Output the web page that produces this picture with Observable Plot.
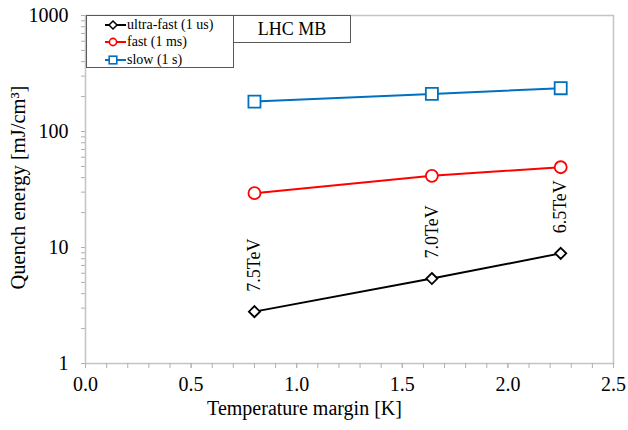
<!DOCTYPE html>
<html><head><meta charset="utf-8">
<script src="https://cdn.jsdelivr.net/npm/d3@7"></script>
<script src="https://cdn.jsdelivr.net/npm/@observablehq/plot@0.6"></script>
<style>
body{margin:0;background:#fff;}
#wrap{position:relative;width:628px;height:430px;font-family:"Liberation Serif",serif;color:#000;}
.box{position:absolute;background:#fff;border:1.5px solid #595959;box-sizing:border-box;}
.row{position:absolute;left:0;height:16px;display:flex;align-items:center;font-size:14px;white-space:nowrap;}
.row svg{margin-left:18px;margin-right:1px;}
</style></head><body><div id="wrap"></div>
<script>
// ---- data ----
const margin = [0.80, 1.64, 2.25];
const ultraFast = [2.8, 5.4, 8.9];
const fast = [29.4, 41.5, 49.2];
const slow = [181, 211, 236];
const beamEnergy = ["7.5TeV", "7.0TeV", "6.5TeV"];
const seriesNames = ["ultra-fast (1 us)", "fast (1 ms)", "slow (1 s)"];
const seriesColors = ["#000000", "#ff0000", "#0070c0"];
const seriesSymbols = ["diamond2", "circle", "square"];
const seriesR = [5, 6, 6.8];
const xTicks = [0, 0.5, 1.0, 1.5, 2.0, 2.5];
const yTicks = [1, 10, 100, 1000];
const boxTitle = "LHC MB";
const xLabel = "Temperature margin [K]";
const yLabel = "Quench energy [mJ/cm³]";

const values = [ultraFast, fast, slow];
const rows = values.flatMap((vals, i) => margin.map((m, j) => ({series: i, x: m, y: vals[j]})));
const labelRows = margin.map((m, j) => ({x: m, y: ultraFast[j], text: beamEnergy[j]}));
const xMinor = d3.range(0, 26).map(i => i / 10);
const yMinor = [1, 10, 100].flatMap(d => d3.range(2, 10).map(k => k * d));

const marks = [
  Plot.frame({stroke: "#c4c4c4", strokeWidth: 1.5}),
  Plot.axisX(xMinor, {tickSize: 5, tickFormat: () => "", stroke: "#b0b0b0", label: null}),
  Plot.axisX(xTicks, {tickSize: 5, tickPadding: 8, stroke: "#b0b0b0", tickFormat: d => d.toFixed(1), fontSize: 20, fill: "#000", label: null}),
  Plot.axisY(yMinor, {tickSize: 4, tickFormat: () => "", stroke: "#b0b0b0", label: null}),
  Plot.axisY(yTicks, {tickSize: 4, tickPadding: 13, stroke: "#b0b0b0", tickFormat: d => String(d), fontSize: 20, fill: "#000", label: null}),
];
values.forEach((v, i) => {
  const data = rows.filter(r => r.series === i);
  marks.push(Plot.line(data, {x: "x", y: "y", stroke: seriesColors[i], strokeWidth: 2}));
  marks.push(Plot.dot(data, {x: "x", y: "y", stroke: seriesColors[i], fill: "white", strokeWidth: 1.8, symbol: () => seriesSymbols[i], r: seriesR[i]}));
});
marks.push(Plot.text(labelRows, {x: "x", y: "y", text: "text", rotate: -90, textAnchor: "start", dy: -20, fontSize: 18}));
marks.push(Plot.text([xLabel], {frameAnchor: "bottom", textAnchor: "middle", lineAnchor: "middle", dy: 45, dx: -45, fontSize: 20}));
marks.push(Plot.text([yLabel], {frameAnchor: "left", rotate: -90, textAnchor: "middle", lineAnchor: "middle", dx: -67, dy: -2, fontSize: 20.5}));

const chart = Plot.plot({
  width: 628, height: 430,
  marginTop: 15, marginBottom: 67, marginLeft: 85, marginRight: 15,
  style: {fontFamily: "Liberation Serif, serif", fontSize: "20px", background: "white", color: "black", overflow: "visible"},
  x: {domain: [0, 2.5], axis: null},
  y: {type: "log", domain: [1, 1000], axis: null},
  marks
});
const wrap = document.getElementById("wrap");
chart.style.position = "absolute";
chart.style.left = "0"; chart.style.top = "0";
wrap.appendChild(chart);

// legend box
const legend = document.createElement("div");
legend.className = "box";
Object.assign(legend.style, {left: "86px", top: "15px", width: "148px", height: "53px"});
seriesNames.forEach((name, i) => {
  const row = document.createElement("div");
  row.className = "row";
  row.style.top = (1 + i * 17.3) + "px";
  const c = seriesColors[i];
  let sym;
  if (i === 0) sym = `<path d="M8,4 L12,8 L8,12 L4,8Z" fill="white" stroke="${c}" stroke-width="1.5"/>`;
  else if (i === 1) sym = `<circle cx="8" cy="8" r="3.6" fill="white" stroke="${c}" stroke-width="1.6"/>`;
  else sym = `<rect x="4.2" y="4.2" width="7.6" height="7.6" fill="white" stroke="${c}" stroke-width="1.6"/>`;
  row.innerHTML = `<svg width="21" height="16" viewBox="0 0 21 16"><line x1="0" y1="8" x2="21" y2="8" stroke="${c}" stroke-width="2"/>${sym}</svg><span>${name}</span>`;
  legend.appendChild(row);
});
wrap.appendChild(legend);

const title = document.createElement("div");
title.className = "box";
Object.assign(title.style, {left: "233px", top: "15px", width: "118px", height: "28px", fontSize: "18px", display: "flex", alignItems: "center", justifyContent: "center"});
title.textContent = boxTitle;
wrap.appendChild(title);
</script></body></html>
